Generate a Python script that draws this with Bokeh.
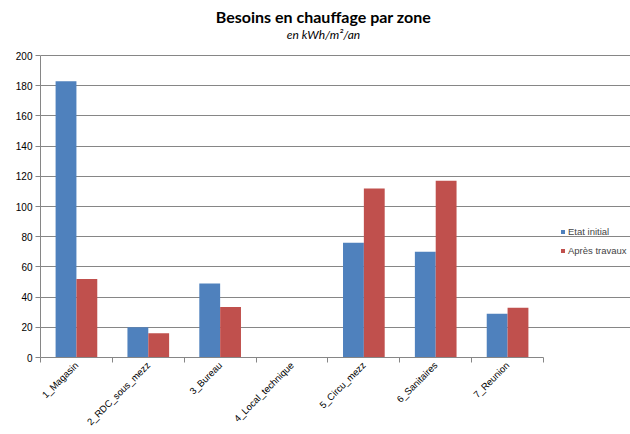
import numpy as np
from bokeh.plotting import figure
from bokeh.models import (Range1d, FixedTicker, Label, Legend, LegendItem,
                          ColumnDataSource)
from bokeh.embed import file_html
from bokeh.resources import INLINE

# Heating needs per zone, kWh/m²/an
zones = ["1_Magasin", "2_RDC_sous_mezz", "3_Bureau", "4_Local_technique",
         "5_Circu_mezz", "6_Sanitaires", "7_Reunion"]
etat_initial = [183, 20, 49, 0, 76, 70, 29]
apres_travaux = [52, 16, 33.5, 0, 112, 117, 33]
series_names = ["Etat initial", "Après travaux"]
series_colors = ["#4F81BD", "#C0504D"]
y_ticks = list(range(0, 201, 20))
y_max = 200
title_text = "Besoins en chauffage par zone"
subtitle_text = "en kWh/m²/an"

n = len(zones)
centers = np.arange(n) + 0.5
bounds = np.arange(n + 1)
bar_w = 0.29

AX_COLOR = "#868686"
FONT = "Liberation Sans"

# The frame spans the canvas to the right and top edges so that the titles
# and the legend can live inside it; axes and grid are bounded to the data.
W, H = 630, 434
LEFT, BOTTOM = 40, 77
PLOT_TOP = 55          # pixel row of the 200 gridline
CAT_W = 503            # pixel width of the category area
frame_w = W - LEFT
frame_h = H - BOTTOM
x_end = n * frame_w / CAT_W
y_end = y_max * frame_h / (frame_h - PLOT_TOP)

p = figure(width=W, height=H, output_backend="svg", toolbar_location=None,
           x_range=Range1d(0, x_end), y_range=Range1d(0, y_end),
           min_border_left=LEFT, min_border_right=0,
           min_border_top=0, min_border_bottom=BOTTOM, title=None)
p.outline_line_color = None
p.background_fill_color = "white"
p.border_fill_color = "white"

src = ColumnDataSource(dict(
    zone=zones,
    x_a=centers - bar_w / 2,
    x_b=centers + bar_w / 2,
    a=etat_initial,
    b=apres_travaux,
))
r_a = p.vbar(x="x_a", top="a", width=bar_w, bottom=0, source=src,
             fill_color=series_colors[0], line_color=None)
r_b = p.vbar(x="x_b", top="b", width=bar_w, bottom=0, source=src,
             fill_color=series_colors[1], line_color=None)

# Y axis
p.yaxis.bounds = (0, y_max)
p.yaxis.ticker = FixedTicker(ticks=y_ticks)
p.yaxis.axis_line_color = AX_COLOR
p.yaxis.major_tick_line_color = AX_COLOR
p.yaxis.major_tick_in = 0
p.yaxis.major_tick_out = 5
p.yaxis.minor_tick_line_color = None
p.yaxis.major_label_text_font = FONT
p.yaxis.major_label_text_font_size = "10px"
p.yaxis.major_label_text_color = "#000000"
p.yaxis.major_label_standoff = 3

# X axis: labels at centers, ticks at category boundaries
p.xaxis.bounds = (0, n)
p.xaxis.ticker = FixedTicker(ticks=list(centers), minor_ticks=list(bounds))
p.xaxis.major_label_overrides = {float(c): z for c, z in zip(centers, zones)}
p.xaxis.major_tick_line_color = None
p.xaxis.major_tick_in = 0
p.xaxis.major_tick_out = 0
p.xaxis.minor_tick_line_color = AX_COLOR
p.xaxis.minor_tick_in = 0
p.xaxis.minor_tick_out = 5
p.xaxis.axis_line_color = AX_COLOR
p.xaxis.major_label_orientation = np.pi / 4
p.xaxis.major_label_text_font = FONT
p.xaxis.major_label_text_font_size = "9.5px"
p.xaxis.major_label_text_line_height = 1.0
p.xaxis.major_label_text_color = "#000000"
p.xaxis.major_label_standoff = 1

# Grid
p.xgrid.grid_line_color = None
p.ygrid.ticker = FixedTicker(ticks=y_ticks)
p.ygrid.bounds = (0, n)
p.ygrid.grid_line_color = AX_COLOR
p.ygrid.grid_line_width = 1

# Titles, placed in pixels from the frame's bottom-left corner
title_cx = 323 - LEFT
p.add_layout(Label(x=title_cx, y=frame_h - 16, x_units="screen",
                   y_units="screen", text=title_text, text_align="center",
                   text_baseline="middle", text_font="Lato",
                   text_font_style="bold", text_font_size="16px",
                   text_color="#000000"))
p.add_layout(Label(x=title_cx, y=frame_h - 34, x_units="screen",
                   y_units="screen", text=subtitle_text, text_align="center",
                   text_baseline="middle", text_font="Lato",
                   text_font_style="italic", text_font_size="12px",
                   text_color="#000000"))

legend = Legend(items=[LegendItem(label=series_names[0], renderers=[r_a]),
                       LegendItem(label=series_names[1], renderers=[r_b])],
                location=(520, 101), orientation="vertical",
                glyph_width=5, glyph_height=5, spacing=8,
                label_text_font=FONT, label_text_font_size="9.5px",
                label_standoff=3, padding=0, margin=0,
                background_fill_alpha=0, border_line_color=None)
p.add_layout(legend, "center")

open("out.html", "w").write(file_html(p, INLINE))
